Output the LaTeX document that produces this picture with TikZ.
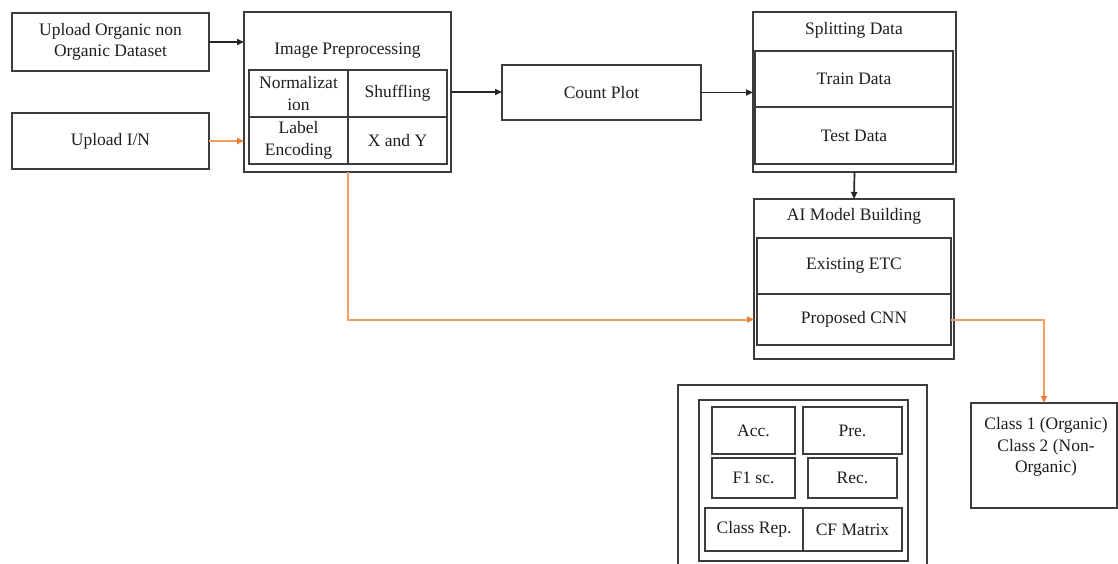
\documentclass[tikz,border=0pt]{standalone}
\usepackage{fontspec}
\setmainfont{Liberation Serif}
\newfontfamily\tnr{Liberation Serif}
\usetikzlibrary{arrows.meta}
\definecolor{boxgray}{RGB}{60,60,60}
\definecolor{lineorange}{RGB}{242,156,98}
\definecolor{tiporange}{RGB}{237,125,49}
\definecolor{txt}{RGB}{30,30,30}
\begin{document}
\begin{tikzpicture}[x=1pt,y=-1pt,
  bx/.style={draw=boxgray, line width=1.7pt, inner sep=0pt, outer sep=0pt, anchor=north west,
    align=center, text=txt, font=\tnr\fontsize{17.5}{21.5}\selectfont},
  lbl/.style={inner sep=0pt, align=center, text=txt, font=\tnr\fontsize{17.5}{21.5}\selectfont},
  blk/.style={draw=black!85, line width=1.7pt, -{Triangle[length=7pt,width=6pt]}},
  org/.style={draw=lineorange, line width=2pt, -{Triangle[length=7pt,width=6pt,color=tiporange]}}]
\useasboundingbox (0,0) rectangle (1118,564);
\fill[white] (0,0) rectangle (1118,564);

% left inputs
\node[bx, minimum width=197pt, minimum height=58pt] (up1) at (12,13) {Upload Organic non\\Organic Dataset};
\node[bx, minimum width=197pt, minimum height=56pt] (upin) at (12,113) {Upload I/N};

% image preprocessing
\node[bx, minimum width=207pt, minimum height=160pt] (ip) at (244,12) {};
\node[lbl] (iptitle) at (347.5,51) {Image Preprocessing};
\node[bx, minimum width=99pt, minimum height=47pt] (norm) at (249,70) {Normalizat\\ion};
\node[bx, minimum width=99pt, minimum height=47pt] (shuf) at (348,70) {Shuffling};
\node[bx, minimum width=99pt, minimum height=47pt] (lenc) at (249,117) {Label\\Encoding};
\node[bx, minimum width=99pt, minimum height=47pt] (xy) at (348,117) {X and Y};

% count plot
\node[bx, minimum width=199pt, minimum height=55pt] (cp) at (502,65) {Count Plot};

% splitting data
\node[bx, minimum width=203pt, minimum height=160pt] (sd) at (753,12) {};
\node[lbl] (sdtitle) at (854,30) {Splitting Data};
\node[bx, minimum width=198pt, minimum height=56pt] (train) at (755,51) {Train Data};
\node[bx, minimum width=198pt, minimum height=57pt] (test) at (755,107) {Test Data};

% AI model building
\node[bx, minimum width=200pt, minimum height=160pt] (ai) at (754,199) {};
\node[lbl] (aititle) at (854,216) {AI Model Building};
\node[bx, minimum width=194pt, minimum height=56pt] (etc) at (757,238) {Existing ETC};
\node[bx, minimum width=194pt, minimum height=51pt] (cnn) at (757,294) {Proposed CNN};

% metrics
\draw[draw=boxgray, line width=1.7pt] (678,570) -- (678,385) -- (927,385) -- (927,570);
\node[bx, minimum width=209pt, minimum height=161pt] (met) at (699,400) {};
\node[bx, minimum width=83pt, minimum height=47pt] (acc) at (712,407) {Acc.};
\node[bx, minimum width=99pt, minimum height=47pt] (pre) at (803,407) {Pre.};
\node[bx, minimum width=83pt, minimum height=40pt] (f1) at (712,458) {F1 sc.};
\node[bx, minimum width=89pt, minimum height=40pt] (rec) at (808,458) {Rec.};
\node[bx, minimum width=98pt, minimum height=43pt] (crep) at (705,508) {Class Rep.};
\node[bx, minimum width=99pt, minimum height=43pt] (cfm) at (803,508) {CF Matrix};

% classes
\node[bx, minimum width=146pt, minimum height=105pt] (cls) at (971,403) {};
\node[lbl] (clstext) at (1046,447) {Class 1 (Organic)\\Class 2 (Non-\\Organic)};

% connectors
\draw[blk] (up1) -- (up1 -| ip.west);
\draw[org] (upin) -- (upin -| ip.west);
\draw[blk] (ip.east) -- (ip.east -| cp.west);
\draw[blk] (cp.east) -- (cp.east -| sd.west);
\draw[blk] (sd.south) -- (ai.north);
\draw[org] (ip.south) |- (ai.west |- cnn.west);
\draw[org] (cnn.east) -| (cls.north);
\end{tikzpicture}
\end{document}
